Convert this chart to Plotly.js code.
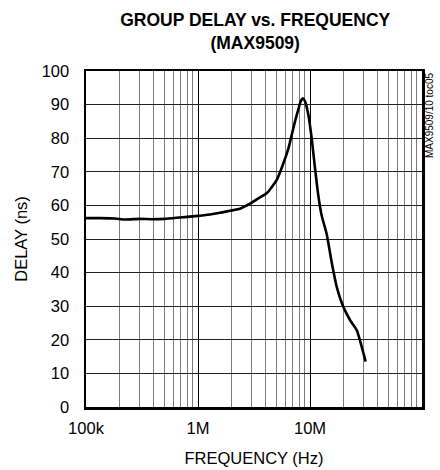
<!DOCTYPE html>
<html>
<head>
<meta charset="utf-8">
<script src="https://cdn.plot.ly/plotly-3.0.1.min.js"></script>
<style>
  html, body { margin: 0; padding: 0; background: #fff; }
  #chart { width: 440px; height: 470px; }
</style>
</head>
<body>
<div id="chart"></div>
<script>
// Frequency (Hz) and group delay (ns)
const freqHz = [
  1.00e5, 1.33e5, 1.815e5, 2.23e5, 3.03e5, 3.88e5, 5.07e5, 6.90e5, 9.40e5,
  1.28e6, 1.57e6, 1.93e6, 2.37e6, 2.91e6, 3.43e6, 4.10e6, 5.05e6, 5.78e6,
  6.40e6, 6.87e6, 7.35e6, 7.87e6, 8.31e6, 8.66e6, 9.02e6, 9.66e6, 1.035e7,
  1.109e7, 1.186e7, 1.271e7, 1.409e7, 1.563e7, 1.731e7, 1.983e7, 2.275e7,
  2.611e7, 2.896e7, 3.143e7
];
const delayNs = [
  56.2, 56.2, 56.1, 55.8, 56.0, 55.9, 56.0, 56.4, 56.8,
  57.3, 57.8, 58.4, 59.0, 60.5, 62.0, 63.6, 67.6, 72.5,
  76.8, 81.0, 85.0, 88.6, 91.2, 91.9, 91.0, 87.0, 80.0,
  71.0, 63.0, 57.0, 51.5, 43.0, 35.8, 29.8, 25.9,
  22.9, 17.9, 13.5
];
const xTickVals = [1e5, 1e6, 1e7, 1e8];
const xTickText = ['100k', '1M', '10M', '100M'];
const xMinorVals = [];
[1e5, 1e6, 1e7].forEach(function (d) {
  for (let k = 2; k <= 9; k++) xMinorVals.push(k * d);
});
const yTickVals = [0, 10, 20, 30, 40, 50, 60, 70, 80, 90, 100];

const FONT = '"Liberation Sans Narrow", "Arial Narrow", "Liberation Sans", Arial, sans-serif';

const trace = {
  x: freqHz,
  y: delayNs,
  type: 'scatter',
  mode: 'lines',
  line: { color: '#000', width: 2.6, shape: 'spline', smoothing: 0.6 },
  hoverinfo: 'skip'
};

const layout = {
  width: 440,
  height: 470,
  margin: { l: 86, r: 18, t: 71, b: 63 },
  paper_bgcolor: '#fff',
  plot_bgcolor: '#fff',
  showlegend: false,
  font: { family: FONT, color: '#000', size: 16 },
  title: {
    text: '<b>GROUP DELAY vs. FREQUENCY</b><br><b>(MAX9509)</b>',
    font: { family: FONT, size: 17.5, color: '#000' },
    x: 0.58, xanchor: 'center',
    y: 0.945, yanchor: 'top', yref: 'container'
  },
  xaxis: {
    type: 'log',
    range: [5, 8],
    tickmode: 'array',
    tickvals: xTickVals,
    ticktext: xTickText,
    ticks: '',
    showgrid: true,
    gridcolor: '#000',
    gridwidth: 1,
    showline: true,
    linecolor: '#000',
    linewidth: 2.5,
    mirror: true,
    zeroline: false,
    ticklabelstandoff: 5,
    tickfont: { family: FONT, size: 16.5, color: '#000' },
    title: { text: 'FREQUENCY (Hz)', font: { family: FONT, size: 16.5, color: '#000' }, standoff: 16 },
    minor: {
      tickmode: 'array',
      tickvals: xMinorVals,
      showgrid: true,
      gridcolor: '#7a7a7a',
      gridwidth: 1,
      ticks: ''
    }
  },
  yaxis: {
    range: [0, 100],
    tickmode: 'array',
    tickvals: yTickVals,
    ticks: '',
    showgrid: true,
    gridcolor: '#222',
    gridwidth: 1,
    showline: true,
    linecolor: '#000',
    linewidth: 2.5,
    mirror: true,
    zeroline: false,
    ticklabelstandoff: 11,
    tickfont: { family: FONT, size: 16.5, color: '#000' },
    title: { text: 'DELAY (ns)', font: { family: FONT, size: 16.5, color: '#000' }, standoff: 10 }
  },
  annotations: [{
    text: 'MAX9509/10 toc05',
    xref: 'paper', yref: 'paper',
    x: 1.0, y: 1.0,
    xanchor: 'left', yanchor: 'top',
    textangle: -90,
    showarrow: false,
    font: { family: FONT, size: 10, color: '#000' }
  }]
};

Plotly.newPlot('chart', [trace], layout, { staticPlot: true, displayModeBar: false });
</script>
</body>
</html>
